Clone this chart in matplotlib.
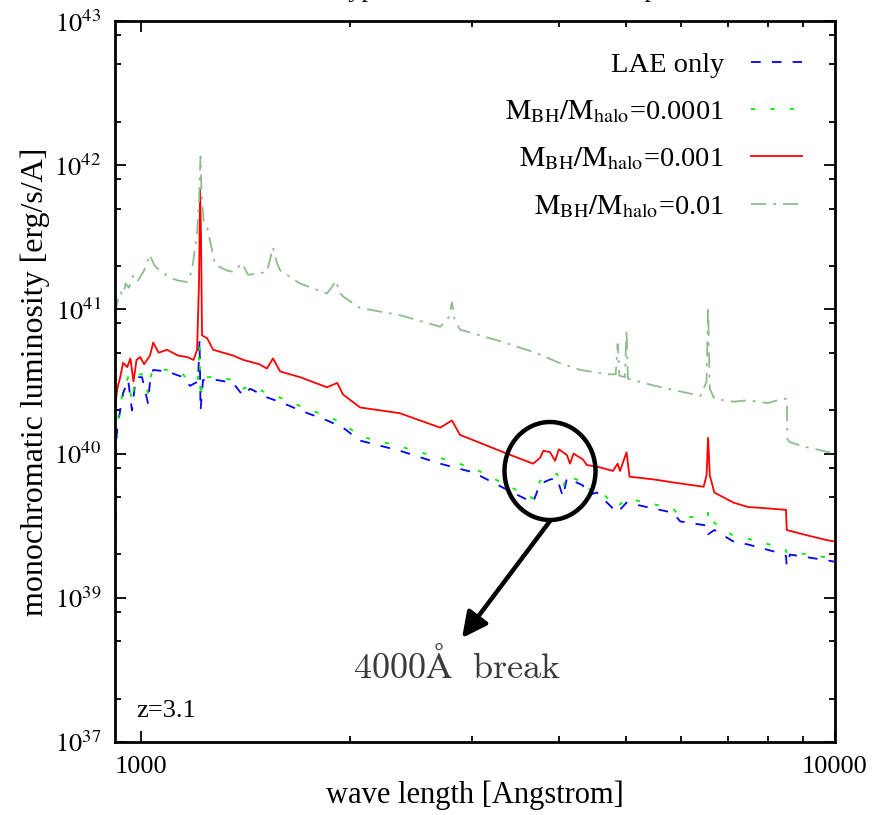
import matplotlib
matplotlib.use("Agg")
import matplotlib.pyplot as plt
import numpy as np
from matplotlib.patches import Ellipse
from matplotlib.ticker import FixedLocator, NullFormatter

plt.rcParams.update({
    "font.family": ["Liberation Serif", "DejaVu Serif"],
    "mathtext.fontset": "stix",
    "font.size": 19,
    "lines.scale_dashes": False,
})

# ---- data (wavelength in Angstrom, log10 L in erg/s/A)
wl_agn01 = [917, 924, 933, 942, 950, 960, 975, 990, 1010, 1030, 1037, 1047, 1070,
            1101, 1130, 1165, 1184, 1204, 1212, 1218, 1222, 1230, 1245, 1278, 1330,
            1357, 1398, 1426, 1480, 1518, 1540, 1549, 1570, 1586, 1694, 1853, 1900,
            1910, 1930, 1954, 2068, 2360, 2698, 2780, 2805, 2830, 2881, 3290, 3700,
            4000, 4300, 4700, 4830, 4861, 4890, 4980, 5007, 5030, 5500, 6000, 6400,
            6530, 6563, 6600, 6700, 7140, 7488, 8000, 8400, 8520, 8540, 8600, 9000,
            10000]
lg_agn01 = [40.97, 41.05, 41.12, 41.10, 41.18, 41.15, 41.24, 41.20, 41.27, 41.38,
            41.34, 41.30, 41.26, 41.22, 41.20, 41.19, 41.27, 41.53, 41.75, 42.06,
            41.80, 41.62, 41.57, 41.31, 41.27, 41.26, 41.32, 41.24, 41.25, 41.26,
            41.38, 41.43, 41.32, 41.27, 41.18, 41.11, 41.18, 41.20, 41.12, 41.09,
            41.01, 40.96, 40.88, 40.95, 41.05, 40.93, 40.86, 40.78, 40.70, 40.63,
            40.58, 40.55, 40.55, 40.76, 40.54, 40.53, 40.86, 40.52, 40.47, 40.43,
            40.40, 40.50, 41.02, 40.45, 40.38, 40.36, 40.37, 40.35, 40.38, 40.38,
            40.10, 40.08, 40.05, 40.00]

wl_agn001 = [917, 924, 933, 942, 955, 965, 975, 985, 997, 1010, 1030, 1041, 1060,
             1090, 1130, 1165, 1190, 1204, 1212, 1216, 1220, 1224, 1245, 1270, 1357,
             1403, 1480, 1518, 1549, 1586, 1694, 1853, 1917, 1954, 2068, 2360, 2698,
             2805, 2881, 3366, 3671, 3757, 3800, 3884, 3950, 4000, 4108, 4150, 4200,
             4331, 4390, 4538, 4787, 4861, 4900, 5007, 5057, 5500, 5842, 6467, 6530,
             6563, 6600, 6700, 7140, 7488, 8000, 8500, 8520, 9000, 9730, 10000]
lg_agn001 = [40.32, 40.45, 40.53, 40.63, 40.60, 40.66, 40.50, 40.65, 40.67, 40.62,
             40.68, 40.77, 40.70, 40.72, 40.68, 40.67, 40.65, 40.72, 41.20, 41.83,
             41.50, 40.82, 40.80, 40.72, 40.68, 40.65, 40.62, 40.59, 40.66, 40.57,
             40.53, 40.46, 40.49, 40.41, 40.32, 40.28, 40.18, 40.23, 40.13, 40.00,
             39.93, 39.97, 40.02, 40.01, 39.95, 40.03, 39.99, 39.93, 40.00, 39.96,
             39.92, 39.91, 39.88, 39.93, 39.88, 40.01, 39.84, 39.82, 39.80, 39.77,
             39.85, 40.11, 39.85, 39.73, 39.66, 39.63, 39.62, 39.61, 39.47, 39.44,
             39.40, 39.39]

wl_lae = [917, 920, 924, 933, 942, 958, 970, 980, 987, 1003, 1023, 1030, 1041, 1090,
          1149, 1176, 1208, 1214, 1218, 1228, 1287, 1357, 1403, 1436, 1518, 1602,
          1694, 1853, 1954, 2068, 2360, 2698, 3010, 3366, 3671, 3757, 3884, 3975,
          4055, 4108, 4331, 4390, 4538, 4854, 5007, 5842, 5982, 6555, 6563, 6700,
          7140, 7488, 8327, 8500, 8520, 8610, 9730, 10000]
lg_lae = [38.95, 40.00, 40.18, 40.30, 40.42, 40.51, 40.30, 40.48, 40.53, 40.53,
          40.35, 40.50, 40.58, 40.57, 40.53, 40.47, 40.50, 40.79, 40.30, 40.51,
          40.51, 40.49, 40.40, 40.45, 40.39, 40.35, 40.30, 40.23, 40.18, 40.09,
          40.02, 39.93, 39.87, 39.75, 39.66, 39.79, 39.82, 39.83, 39.70, 39.83,
          39.78, 39.71, 39.73, 39.59, 39.66, 39.59, 39.53, 39.50, 39.44, 39.47,
          39.39, 39.37, 39.31, 39.29, 39.22, 39.30, 39.26, 39.25]

wl_agn0001 = wl_lae
lg_agn0001 = [39.30, 40.05, 40.20, 40.33, 40.44, 40.53, 40.36, 40.50, 40.55, 40.55,
              40.42, 40.52, 40.59, 40.58, 40.55, 40.49, 40.52, 40.76, 40.38, 40.53,
              40.53, 40.51, 40.45, 40.47, 40.42, 40.38, 40.33, 40.26, 40.21, 40.12,
              40.05, 39.97, 39.90, 39.78, 39.69, 39.81, 39.85, 39.86, 39.76, 39.85,
              39.80, 39.75, 39.76, 39.63, 39.69, 39.62, 39.56, 39.56, 39.61, 39.52,
              39.43, 39.41, 39.35, 39.33, 39.31, 39.32, 39.28, 39.27]

ytick_vals = [1e38, 1e39, 1e40, 1e41, 1e42, 1e43]
ytick_labels = [r"$10^{37}$", r"$10^{39}$", r"$10^{40}$", r"$10^{41}$", r"$10^{42}$", r"$10^{43}$"]

fig = plt.figure(figsize=(8.91, 8.15), dpi=100)
ax = fig.add_axes([115 / 891, 73 / 815, 720 / 891, 721 / 815])

ax.plot(wl_lae, 10 ** np.array(lg_lae), color="#0000ff", lw=1.3,
        dashes=(7, 8), label="LAE only")
ax.plot(wl_agn0001, 10 ** np.array(lg_agn0001), color="#00ee00", lw=1.3,
        dashes=(3, 11), label=r"$\mathrm{M_{BH}/M_{halo}}$=0.0001")
ax.plot(wl_agn001, 10 ** np.array(lg_agn001), color="#ff0000", lw=1.3,
        label=r"$\mathrm{M_{BH}/M_{halo}}$=0.001")
ax.plot(wl_agn01, 10 ** np.array(lg_agn01), color="#8fbc8f", lw=1.3,
        dashes=(11, 5, 2, 5), label=r"$\mathrm{M_{BH}/M_{halo}}$=0.01")

ax.set_xscale("log")
ax.set_yscale("log")
ax.set_xlim(917, 10000)
ax.set_ylim(1e38, 1e43)
ax.set_xticks([1000, 10000])
ax.set_xticklabels(["1000", "10000"])
ax.xaxis.set_minor_locator(FixedLocator([2000, 3000, 4000, 5000, 6000, 7000, 8000, 9000]))
ax.xaxis.set_minor_formatter(NullFormatter())
ax.set_yticks(ytick_vals)
ax.set_yticklabels(ytick_labels)
ax.yaxis.set_minor_locator(FixedLocator([m * 10.0 ** k for k in range(38, 43) for m in (2, 5, 8)]))
ax.yaxis.set_minor_formatter(NullFormatter())
ax.tick_params(which="both", direction="in", top=True, right=True, width=1.3)
ax.tick_params(which="major", length=8, pad=10)
ax.tick_params(which="minor", length=4)
for s in ax.spines.values():
    s.set_linewidth(2)

ax.set_xlabel("wave length [Angstrom]", fontsize=22, labelpad=2)
ax.set_ylabel("monochromatic luminosity [erg/s/A]", fontsize=23, labelpad=3)

leg = ax.legend(loc="upper right", bbox_to_anchor=(0.99, 0.993), frameon=False, fontsize=20.5,
                markerfirst=False, handlelength=1.8, labelspacing=0.72, handletextpad=0.95)

# circled 4000 A break and arrow
ax.add_patch(Ellipse(((550 - 115) / 720, (742 - 471) / 721), 91 / 720, 98 / 721,
                     transform=ax.transAxes, fill=False, lw=3.2, ec="black", zorder=5))
ax.annotate("", xy=((462 - 115) / 720, (742 - 638) / 721),
            xytext=((550 - 115) / 720, (742 - 521) / 721),
            xycoords="axes fraction", textcoords="axes fraction",
            arrowprops=dict(arrowstyle="-|>,head_length=0.8,head_width=0.4", lw=3.2, color="black",
                            shrinkA=0, shrinkB=0))
ax.text((457 - 115) / 720, (742 - 667) / 721, r"$\mathrm{4000\AA\ \ break}$", transform=ax.transAxes,
        ha="center", va="center", fontsize=26, color="#3a3a3a", math_fontfamily="cm")
ax.text(0.03, 0.035, "z=3.1", transform=ax.transAxes, ha="left", va="baseline", fontsize=19)

# title cut off at the top edge, as in the reference
fig.text(0.375, 1 + 3 / 815, "Typical LAE + AGN model spectrum", ha="left", va="baseline", fontsize=19)

fig.savefig("out.png", dpi=100)
